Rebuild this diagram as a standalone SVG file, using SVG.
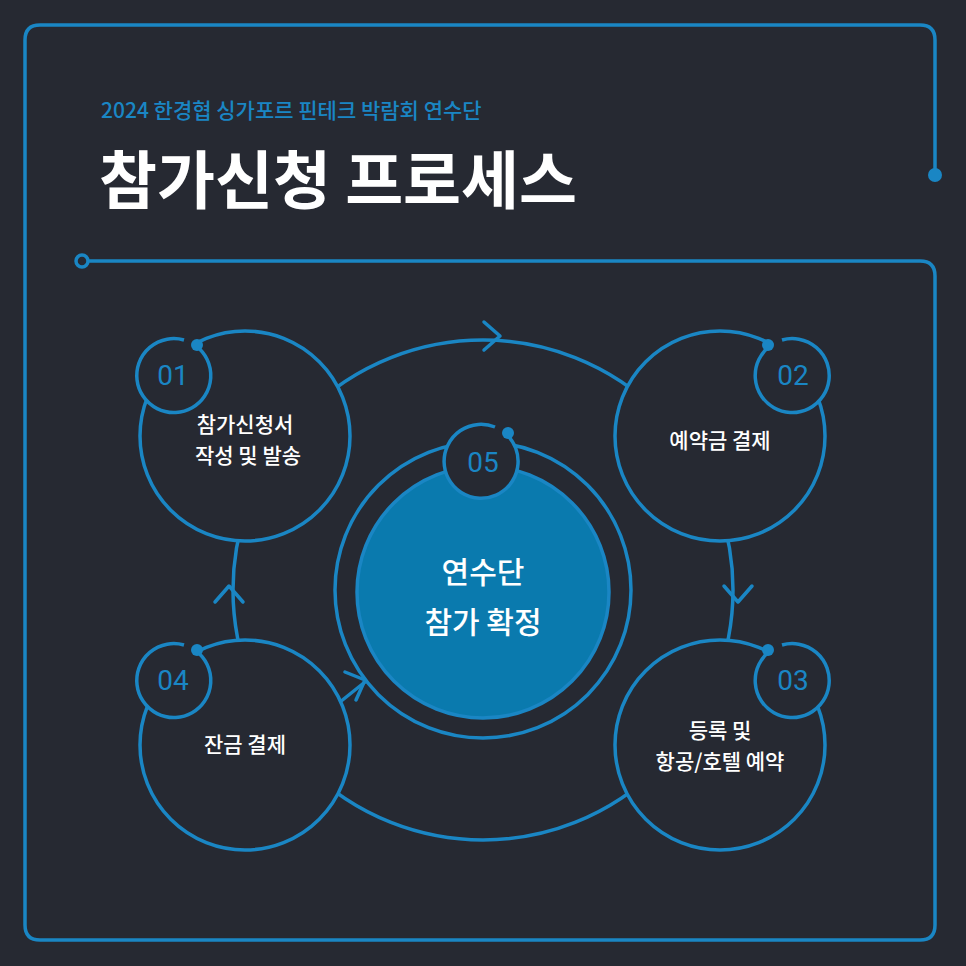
<svg xmlns="http://www.w3.org/2000/svg" width="966" height="966" viewBox="0 0 966 966">
<style>
.ln{fill:none;stroke:#1a86c4;stroke-width:3.5;stroke-linecap:round;stroke-linejoin:round}
.nd{fill:#262932;stroke:#1a86c4;stroke-width:3.5}
.num{font-family:Roboto,"Noto Sans",sans-serif;font-size:28px;fill:#1a86c4;text-anchor:middle}
.lb{font-family:"Noto Sans CJK KR",sans-serif;font-size:21px;font-weight:500;fill:#fff;text-anchor:middle}
.big{font-size:30px}
.dot{fill:#1a86c4}
</style>
<rect width="966" height="966" fill="#262932"/>
<g id="frame">
<path class="ln" d="M935,175 V40 Q935,25 920,25 H40 Q25,25 25,40 V925 Q25,940 40,940 H920 Q935,940 935,925 V276 Q935,261 920,261 H89"/>
<circle cx="935" cy="175" r="7" class="dot"/>
<circle cx="82" cy="261" r="6" fill="#262932" stroke="#1a86c4" stroke-width="3.5"/>
</g>
<text x="101" y="118" font-family="Noto Sans CJK KR,sans-serif" font-size="21" font-weight="500" fill="#1a86c4">2024 한경협 싱가포르 핀테크 박람회 연수단</text>
<text x="99" y="203" font-family="Noto Sans CJK KR,sans-serif" font-size="63" font-weight="700" fill="#fff">참가신청 프로세스</text>
<g id="connectors">
<circle class="ln" cx="483" cy="590" r="250"/>
<path class="ln" d="M484,322 L500,336 L484,350"/>
<path class="ln" d="M215,602 L229,586 L243,602"/>
<path class="ln" d="M724,586 L738,602 L752,586"/>
<path class="ln" d="M330,710 L370,678"/>
<path class="ln" d="M345,672 L365,680 L356,700"/>
</g>
<g id="n05">
<circle cx="483" cy="590" r="148" class="nd"/>
<circle cx="483" cy="592" r="126" fill="#0a7aae" stroke="#1a86c4" stroke-width="3.5"/>
<path class="nd" d="M506.3,434.2 A37,37 0 1 1 495,427"/>
<circle cx="508" cy="433" r="6" class="dot"/>
<text x="483" y="472" class="num">05</text>
<text x="483" y="583" class="lb big">연수단</text>
<text x="483" y="633" class="lb big">참가 확정</text>
</g>
<g id="n01">
<circle cx="245" cy="436" r="105" class="nd"/>
<path class="nd" d="M196.3,346.2 A37,37 0 1 1 184,340"/>
<circle cx="197" cy="345" r="6" class="dot"/>
<text x="173" y="385" class="num">01</text>
<text x="245" y="432" class="lb">참가신청서</text>
<text x="248" y="463" class="lb">작성 및 발송</text>
</g>
<g id="n02">
<circle cx="720" cy="436" r="105" class="nd"/>
<path class="nd" d="M769.7,346.2 A37,37 0 1 0 782,340"/>
<circle cx="768" cy="345" r="6" class="dot"/>
<text x="793" y="385" class="num">02</text>
<text x="720" y="448" class="lb">예약금 결제</text>
</g>
<g id="n03">
<circle cx="720" cy="745" r="105" class="nd"/>
<path class="nd" d="M769.7,651.2 A37,37 0 1 0 782,645"/>
<circle cx="768" cy="650" r="6" class="dot"/>
<text x="793" y="690" class="num">03</text>
<text x="720" y="738" class="lb">등록 및</text>
<text x="720" y="769" class="lb">항공/호텔 예약</text>
</g>
<g id="n04">
<circle cx="245" cy="745" r="105" class="nd"/>
<path class="nd" d="M196.3,651.2 A37,37 0 1 1 184,645"/>
<circle cx="197" cy="650" r="6" class="dot"/>
<text x="173" y="690" class="num">04</text>
<text x="245" y="752" class="lb">잔금 결제</text>
</g>
</svg>
